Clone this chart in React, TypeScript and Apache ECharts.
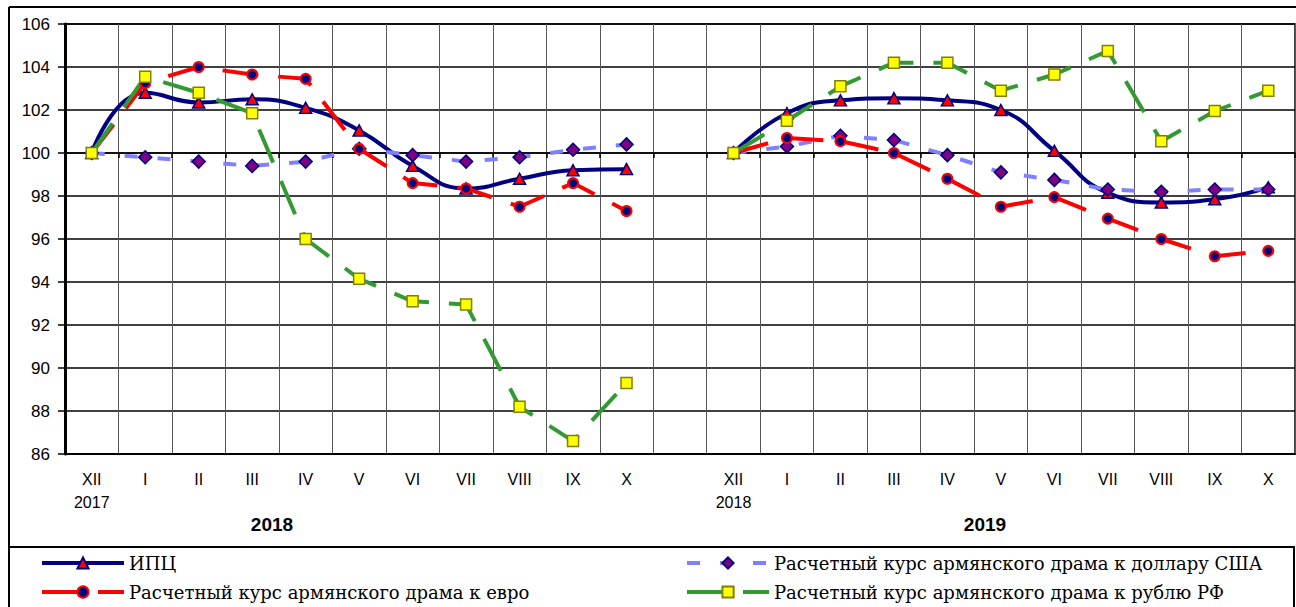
import React, { useEffect, useRef } from "react";
import * as echarts from "echarts";

const categories = [
  "XII\n2017", "I", "II", "III", "IV", "V", "VI", "VII", "VIII", "IX", "X", "",
  "XII\n2018", "I", "II", "III", "IV", "V", "VI", "VII", "VIII", "IX", "X",
];

const cpi = [100, 102.8, 102.35, 102.5, 102.1, 101.05, 99.4, 98.35, 98.8, 99.2, 99.25, null,
  100, 101.85, 102.45, 102.55, 102.45, 102.0, 100.1, 98.15, 97.7, 97.85, 98.4];
const usd = [100, 99.8, 99.6, 99.4, 99.6, 100.2, 99.9, 99.6, 99.8, 100.15, 100.4, null,
  100, 100.3, 100.8, 100.6, 99.9, 99.1, 98.75, 98.3, 98.2, 98.3, 98.3];
const eur = [100, 103.25, 104.0, 103.65, 103.45, 100.2, 98.6, 98.35, 97.5, 98.6, 97.3, null,
  100, 100.7, 100.55, 100.0, 98.8, 97.5, 97.95, 96.95, 96.0, 95.2, 95.45];
const rub = [100, 103.55, 102.8, 101.85, 96.0, 94.15, 93.1, 92.95, 88.2, 86.6, 89.3, null,
  100, 101.5, 103.1, 104.2, 104.2, 102.9, 103.65, 104.75, 100.55, 101.95, 102.9];

const seriesNames = [
  "ИПЦ",
  "Расчетный курс армянского драма к доллару США",
  "Расчетный курс армянского драма к евро",
  "Расчетный курс армянского драма к рублю РФ",
];
const yearLabels = ["2018", "2019"];

const SANS = "'Liberation Sans', Arial, sans-serif";
const SERIF = "'DejaVu Serif', 'Liberation Serif', serif";

export default function App() {
  const ref = useRef<HTMLDivElement>(null);
  useEffect(() => {
    if (!ref.current) return;
    const chart = echarts.init(ref.current, null, { renderer: "svg" });
    const legendText = { fontFamily: SERIF, fontSize: 18, color: "#000", lineHeight: 22 };
    const legendCommon = {
      top: 552,
      orient: "vertical",
      height: 56,
      padding: 0,
      itemWidth: 82,
      itemHeight: 14,
      itemGap: 7,
      textStyle: legendText,
      lineStyle: { width: 4 },
    };
    chart.setOption({
      animation: false,
      backgroundColor: "#fff",
      grid: [
        { left: 65, right: 1, top: 24, height: 430, show: true, borderColor: "#000", borderWidth: 1.5 },
        { left: 65, right: 1, top: 24, height: 129 },
      ],
      xAxis: [
        {
          type: "category",
          gridIndex: 0,
          data: categories,
          boundaryGap: true,
          axisLine: { show: true, lineStyle: { color: "#000", width: 2 } },
          axisTick: { show: false },
          axisLabel: {
            interval: 0,
            fontFamily: SANS,
            fontSize: 16,
            color: "#000",
            lineHeight: 23,
            margin: 14,
          },
          splitLine: { show: true, interval: 0, lineStyle: { color: "#555", width: 1 } },
        },
        {
          type: "category",
          gridIndex: 1,
          data: categories,
          boundaryGap: true,
          axisLine: { show: true, lineStyle: { color: "#000", width: 1.5 } },
          axisTick: { show: true, interval: 0, length: 5, lineStyle: { color: "#000", width: 1.5 } },
          axisLabel: { show: false },
          splitLine: { show: false },
        },
      ],
      yAxis: [
        {
          type: "value",
          gridIndex: 0,
          min: 86,
          max: 106,
          interval: 2,
          axisLine: { show: true, lineStyle: { color: "#000", width: 3 } },
          axisTick: { show: true, length: 7, lineStyle: { color: "#000", width: 1.5 } },
          axisLabel: { fontFamily: SANS, fontSize: 17, color: "#000", margin: 15 },
          splitLine: { show: true, lineStyle: { color: "#000", width: 1.5 } },
        },
        { type: "value", gridIndex: 1, min: 100, max: 106, show: false },
      ],
      legend: [
        { ...legendCommon, left: 40, data: [seriesNames[0], seriesNames[2]] },
        { ...legendCommon, left: 685, data: [seriesNames[1], seriesNames[3]] },
      ],
      series: [
        {
          name: seriesNames[0],
          type: "line",
          data: cpi,
          smooth: 0.5,
          symbol: "triangle",
          symbolSize: [12, 11],
          lineStyle: { color: "#000080", width: 4 },
          itemStyle: { color: "#ff0000", borderColor: "#000080", borderWidth: 1.5 },
        },
        {
          name: seriesNames[1],
          type: "line",
          data: usd,
          symbol: "diamond",
          symbolSize: 13,
          lineStyle: { color: "#8080ff", width: 4, type: [13, 20] },
          itemStyle: { color: "#800080", borderColor: "#000080", borderWidth: 1.5 },
        },
        {
          name: seriesNames[2],
          type: "line",
          data: eur,
          symbol: "circle",
          symbolSize: 10,
          lineStyle: { color: "#ff0000", width: 4, type: [36, 20] },
          itemStyle: { color: "#000080", borderColor: "#ff0000", borderWidth: 2 },
        },
        {
          name: seriesNames[3],
          type: "line",
          data: rub,
          symbol: "rect",
          symbolSize: 11,
          lineStyle: { color: "#339933", width: 4, type: [36, 20] },
          itemStyle: { color: "#ffff00", borderColor: "#808000", borderWidth: 1.5 },
        },
      ],
      graphic: [
        { type: "line", shape: { x1: 9, y1: 7, x2: 1296, y2: 7 }, style: { stroke: "#000", lineWidth: 2 } },
        { type: "line", shape: { x1: 9, y1: 7, x2: 9, y2: 607 }, style: { stroke: "#000", lineWidth: 2 } },
        {
          type: "rect",
          shape: { x: 9, y: 547, width: 1285, height: 80 },
          style: { fill: "none", stroke: "#000", lineWidth: 2 },
        },
        {
          type: "text",
          x: 272,
          y: 524,
          style: { text: yearLabels[0], fontFamily: SANS, fontSize: 19, fontWeight: "bold", fill: "#000", align: "center", verticalAlign: "middle" },
        },
        {
          type: "text",
          x: 985,
          y: 524,
          style: { text: yearLabels[1], fontFamily: SANS, fontSize: 19, fontWeight: "bold", fill: "#000", align: "center", verticalAlign: "middle" },
        },
      ],
    });
    return () => chart.dispose();
  }, []);
  return <div ref={ref} style={{ position: "absolute", left: 0, top: 0, width: 1296, height: 607 }} />;
}
